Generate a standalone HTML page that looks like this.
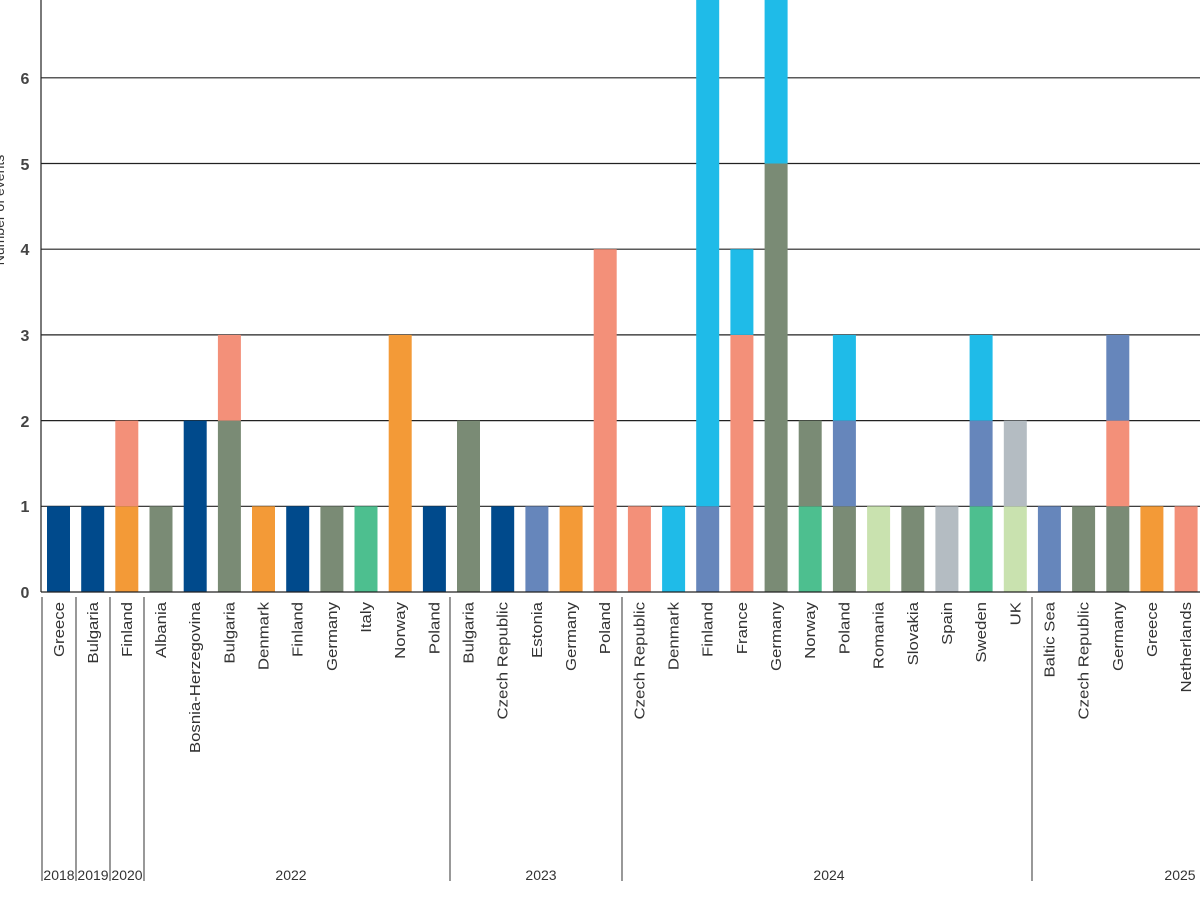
<!DOCTYPE html>
<html><head><meta charset="utf-8"><style>
html,body{margin:0;padding:0;background:#fff;}
svg{display:block;font-family:"Liberation Sans",sans-serif;}
.l{font-size:15px;fill:#333;text-anchor:end;}
.t{font-size:16px;fill:#444;font-weight:bold;text-anchor:middle;}
.y{font-size:14px;fill:#333;text-anchor:middle;}
</style></head><body>
<svg width="1200" height="900" viewBox="0 0 1200 900">
<defs>
<style>
.db{fill:#004a8c}.gg{fill:#7a8b75}.or{fill:#f39a37}.sa{fill:#f39079}.lb{fill:#1fbbe8}.sl{fill:#6686bb}.te{fill:#4dbf8f}.lg{fill:#c9e2af}.gr{fill:#b4bcc2}
</style>
</defs>
<!-- grid -->
<g stroke="#222" stroke-width="1.2">
<line x1="41" y1="506.3" x2="1200" y2="506.3"/>
<line x1="41" y1="420.6" x2="1200" y2="420.6"/>
<line x1="41" y1="334.9" x2="1200" y2="334.9"/>
<line x1="41" y1="249.2" x2="1200" y2="249.2"/>
<line x1="41" y1="163.5" x2="1200" y2="163.5"/>
<line x1="41" y1="77.8" x2="1200" y2="77.8"/>
</g>
<!-- bars -->
<g>
<rect class="db" x="47" y="506.3" width="23" height="85.7"/>
<rect class="db" x="81.2" y="506.3" width="23" height="85.7"/>
<rect class="or" x="115.3" y="506.3" width="23" height="85.7"/><rect class="sa" x="115.3" y="420.6" width="23" height="85.7"/>
<rect class="gg" x="149.5" y="506.3" width="23" height="85.7"/>
<rect class="db" x="183.7" y="420.6" width="23" height="171.4"/>
<rect class="gg" x="217.9" y="420.6" width="23" height="171.4"/><rect class="sa" x="217.9" y="334.9" width="23" height="85.7"/>
<rect class="or" x="252" y="506.3" width="23" height="85.7"/>
<rect class="db" x="286.2" y="506.3" width="23" height="85.7"/>
<rect class="gg" x="320.4" y="506.3" width="23" height="85.7"/>
<rect class="te" x="354.5" y="506.3" width="23" height="85.7"/>
<rect class="or" x="388.7" y="334.9" width="23" height="257.1"/>
<rect class="db" x="422.9" y="506.3" width="23" height="85.7"/>
<rect class="gg" x="457" y="420.6" width="23" height="171.4"/>
<rect class="db" x="491.2" y="506.3" width="23" height="85.7"/>
<rect class="sl" x="525.4" y="506.3" width="23" height="85.7"/>
<rect class="or" x="559.6" y="506.3" width="23" height="85.7"/>
<rect class="sa" x="593.7" y="249.2" width="23" height="342.8"/>
<rect class="sa" x="627.9" y="506.3" width="23" height="85.7"/>
<rect class="lb" x="662.1" y="506.3" width="23" height="85.7"/>
<rect class="sl" x="696.2" y="506.3" width="23" height="85.7"/><rect class="lb" x="696.2" y="0" width="23" height="506.3"/>
<rect class="sa" x="730.4" y="334.9" width="23" height="257.1"/><rect class="lb" x="730.4" y="249.2" width="23" height="85.7"/>
<rect class="gg" x="764.6" y="163.5" width="23" height="428.5"/><rect class="lb" x="764.6" y="0" width="23" height="163.5"/>
<rect class="te" x="798.7" y="506.3" width="23" height="85.7"/><rect class="gg" x="798.7" y="420.6" width="23" height="85.7"/>
<rect class="gg" x="832.9" y="506.3" width="23" height="85.7"/><rect class="sl" x="832.9" y="420.6" width="23" height="85.7"/><rect class="lb" x="832.9" y="334.9" width="23" height="85.7"/>
<rect class="lg" x="867.1" y="506.3" width="23" height="85.7"/>
<rect class="gg" x="901.3" y="506.3" width="23" height="85.7"/>
<rect class="gr" x="935.4" y="506.3" width="23" height="85.7"/>
<rect class="te" x="969.6" y="506.3" width="23" height="85.7"/><rect class="sl" x="969.6" y="420.6" width="23" height="85.7"/><rect class="lb" x="969.6" y="334.9" width="23" height="85.7"/>
<rect class="lg" x="1003.8" y="506.3" width="23" height="85.7"/><rect class="gr" x="1003.8" y="420.6" width="23" height="85.7"/>
<rect class="sl" x="1037.9" y="506.3" width="23" height="85.7"/>
<rect class="gg" x="1072.1" y="506.3" width="23" height="85.7"/>
<rect class="gg" x="1106.3" y="506.3" width="23" height="85.7"/><rect class="sa" x="1106.3" y="420.6" width="23" height="85.7"/><rect class="sl" x="1106.3" y="334.9" width="23" height="85.7"/>
<rect class="or" x="1140.4" y="506.3" width="23" height="85.7"/>
<rect class="sa" x="1174.6" y="506.3" width="23" height="85.7"/>
</g>
<g stroke="#222" stroke-width="1.2">
<line x1="41" y1="592" x2="1200" y2="592"/>
<line x1="41" y1="0" x2="41" y2="592"/>
</g>
<g class="t">
<text x="25" y="598">0</text><text x="25" y="512">1</text><text x="25" y="427">2</text><text x="25" y="341">3</text><text x="25" y="255">4</text><text x="25" y="170">5</text><text x="25" y="84">6</text>
</g>
<text class="y" transform="translate(4,210) rotate(-90)" style="font-size:14px">Number of events</text>
<!-- separators -->
<g stroke="#555" stroke-width="1.2">
<line x1="42" y1="597" x2="42" y2="881"/><line x1="76" y1="597" x2="76" y2="881"/><line x1="110" y1="597" x2="110" y2="881"/><line x1="144" y1="597" x2="144" y2="881"/><line x1="450" y1="597" x2="450" y2="881"/><line x1="622" y1="597" x2="622" y2="881"/><line x1="1032" y1="597" x2="1032" y2="881"/>
</g>
<g class="l">
<text transform="translate(64,602) rotate(-90) scale(1.12,1)">Greece</text>
<text transform="translate(98,602) rotate(-90) scale(1.12,1)">Bulgaria</text>
<text transform="translate(132,602) rotate(-90) scale(1.12,1)">Finland</text>
<text transform="translate(166,602) rotate(-90) scale(1.12,1)">Albania</text>
<text transform="translate(200,602) rotate(-90) scale(1.12,1)">Bosnia-Herzegovina</text>
<text transform="translate(234.5,602) rotate(-90) scale(1.12,1)">Bulgaria</text>
<text transform="translate(268.5,602) rotate(-90) scale(1.12,1)">Denmark</text>
<text transform="translate(302.7,602) rotate(-90) scale(1.12,1)">Finland</text>
<text transform="translate(337,602) rotate(-90) scale(1.12,1)">Germany</text>
<text transform="translate(371,602) rotate(-90) scale(1.12,1)">Italy</text>
<text transform="translate(405.2,602) rotate(-90) scale(1.12,1)">Norway</text>
<text transform="translate(439.4,602) rotate(-90) scale(1.12,1)">Poland</text>
<text transform="translate(473.5,602) rotate(-90) scale(1.12,1)">Bulgaria</text>
<text transform="translate(507.7,602) rotate(-90) scale(1.12,1)">Czech Republic</text>
<text transform="translate(542,602) rotate(-90) scale(1.12,1)">Estonia</text>
<text transform="translate(576,602) rotate(-90) scale(1.12,1)">Germany</text>
<text transform="translate(610.2,602) rotate(-90) scale(1.12,1)">Poland</text>
<text transform="translate(644.4,602) rotate(-90) scale(1.12,1)">Czech Republic</text>
<text transform="translate(678.6,602) rotate(-90) scale(1.12,1)">Denmark</text>
<text transform="translate(712.7,602) rotate(-90) scale(1.12,1)">Finland</text>
<text transform="translate(747,602) rotate(-90) scale(1.12,1)">France</text>
<text transform="translate(781,602) rotate(-90) scale(1.12,1)">Germany</text>
<text transform="translate(815.2,602) rotate(-90) scale(1.12,1)">Norway</text>
<text transform="translate(849.4,602) rotate(-90) scale(1.12,1)">Poland</text>
<text transform="translate(883.6,602) rotate(-90) scale(1.12,1)">Romania</text>
<text transform="translate(917.8,602) rotate(-90) scale(1.12,1)">Slovakia</text>
<text transform="translate(952,602) rotate(-90) scale(1.12,1)">Spain</text>
<text transform="translate(986,602) rotate(-90) scale(1.12,1)">Sweden</text>
<text transform="translate(1020.3,602) rotate(-90) scale(1.12,1)">UK</text>
<text transform="translate(1054.4,602) rotate(-90) scale(1.12,1)">Baltic Sea</text>
<text transform="translate(1088.6,602) rotate(-90) scale(1.12,1)">Czech Republic</text>
<text transform="translate(1122.8,602) rotate(-90) scale(1.12,1)">Germany</text>
<text transform="translate(1157,602) rotate(-90) scale(1.12,1)">Greece</text>
<text transform="translate(1191,602) rotate(-90) scale(1.12,1)">Netherlands</text>
</g>
<g class="y">
<text x="59" y="880">2018</text><text x="93" y="880">2019</text><text x="127" y="880">2020</text>
<text x="291" y="880">2022</text><text x="541" y="880">2023</text><text x="829" y="880">2024</text><text x="1180" y="880">2025</text>
</g>
</svg>
</body></html>
